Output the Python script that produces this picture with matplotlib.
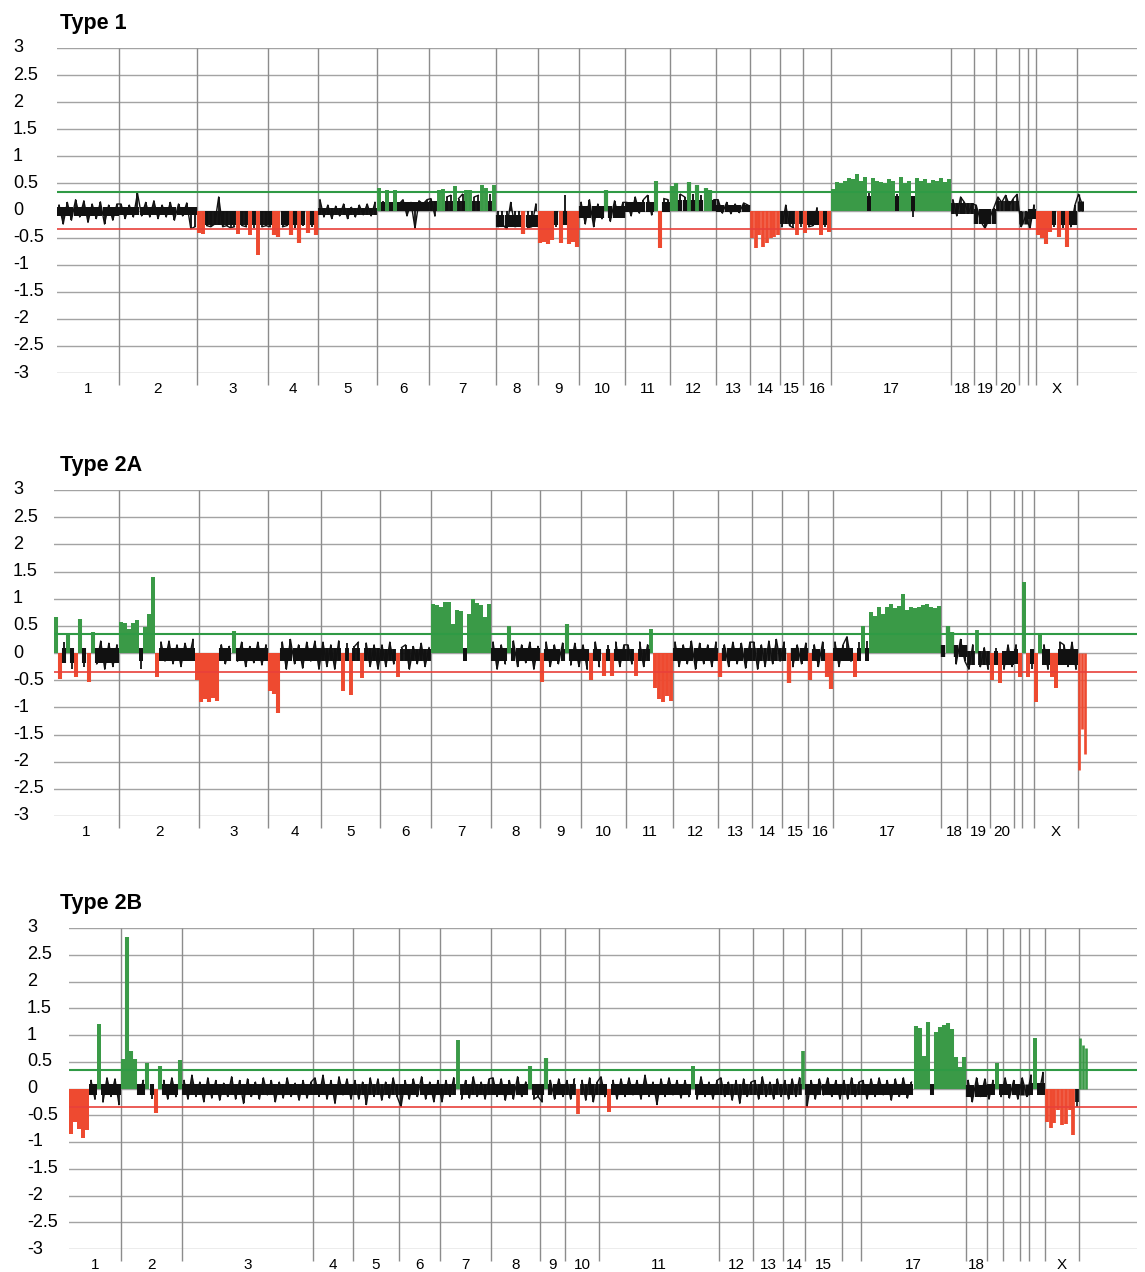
import numpy as np
import matplotlib.pyplot as plt
from matplotlib import transforms

plt.rcParams['font.family'] = ['Liberation Sans', 'DejaVu Sans']

W, H = 1145, 1272
GREEN = '#3a9a47'
RED = '#ee4a30'
GAIN, LOSS = 0.35, -0.35

# chromosome widths on the plot's genome axis, one entry per chromosome 1..22, X, Y
t1_lengths = [62, 78, 71, 50, 59, 52, 67, 42, 41, 46, 45, 46, 34, 30, 23, 28, 120, 23, 22, 23, 9, 8, 41, 6]
t2_lengths = [65, 80, 69, 53, 59, 51, 60, 49, 41, 45, 47, 45, 34, 30, 26, 25, 108, 26, 23, 24, 8, 12, 44, 8]
t3_lengths = [52, 61, 131, 40, 46, 41, 51, 49, 25, 34, 120, 34, 30, 22, 37, 19, 105, 21, 16, 17, 9, 16, 34, 8]

t1_labels = [str(i) for i in range(1, 21)] + ['', '', 'X', '']
t2_labels = [str(i) for i in range(1, 21)] + ['', '', 'X', '']
t3_labels = [str(i) for i in range(1, 16)] + ['', '17', '18', '', '', '', '', 'X', '']

# dense part of the noise band for each chromosome (low, high)
t1_core_lo = [-0.1, -0.09, -0.26, -0.26, -0.09, 0.0, 0.0, -0.3, -0.26, -0.13, -0.03, 0.0,
              -0.02, -0.26, -0.24, -0.26, 0.0, -0.07, -0.24, 0.0, -0.25, -0.15, -0.26, 0.0]
t1_core_hi = [0.07, 0.07, 0.0, 0.0, 0.05, 0.15, 0.18, -0.08, 0.0, 0.08, 0.16, 0.2,
              0.1, 0.0, 0.0, 0.0, 0.26, 0.14, 0.02, 0.17, 0.0, 0.03, 0.0, 0.17]
t2_core_lo = [-0.18, -0.15, -0.15, -0.15, -0.15, -0.15, -0.15, -0.15, -0.15, -0.15, -0.15, -0.15,
              -0.15, -0.15, -0.15, -0.15, -0.15, -0.08, -0.22, -0.22, -0.2, -0.2, -0.22, 0.0]
t2_core_hi = [0.1, 0.1, 0.1, 0.1, 0.1, 0.08, 0.1, 0.1, 0.08, 0.08, 0.08, 0.1,
              0.1, 0.1, 0.1, 0.08, 0.1, 0.15, 0.03, 0.03, 0.08, 0.08, 0.07, 0.0]
t3_core_lo = [-0.13] * 17 + [-0.15, -0.13, -0.13, -0.13, -0.13, -0.26, 0.0]
t3_core_hi = [0.08] * 17 + [0.07, 0.08, 0.08, 0.08, 0.1, 0.0, 0.0]

# log2 ratios, per chromosome
t1_values = [
    [0.1, -0.25, 0.15, -0.18, 0.2, -0.12, 0.18, -0.22, 0.12, -0.15, 0.16, -0.25, 0.1, -0.18, 0.12],
    [0.12, -0.15, 0.1, -0.12, 0.32, -0.1, 0.15, -0.12, 0.18, -0.15, 0.1, -0.12, 0.15, -0.18, 0.12, -0.1, 0.14, -0.34, -0.3],
    [-0.42, -0.43, -0.28, -0.3, -0.25, 0.25, -0.3, -0.28, -0.32, -0.3, -0.43, -0.28, -0.3, -0.45, -0.32, -0.82, -0.3, -0.28],
    [-0.3, -0.46, -0.48, -0.3, -0.28, -0.45, -0.32, -0.6, -0.28, -0.42, -0.3, -0.45],
    [0.2, -0.12, 0.1, -0.15, 0.08, -0.1, 0.12, -0.15, 0.06, -0.12, 0.1, -0.08, 0.12, -0.1, 0.15],
    [0.42, 0.18, 0.38, 0.15, 0.38, 0.12, 0.2, -0.1, 0.15, -0.33, 0.18, 0.12, 0.2],
    [0.22, -0.1, 0.38, 0.4, 0.25, 0.28, 0.45, 0.22, 0.3, 0.37, 0.38, 0.25, 0.28, 0.47, 0.42, 0.3, 0.48],
    [-0.3, -0.25, -0.34, 0.15, -0.3, -0.28, -0.43, -0.32, -0.3, 0.12],
    [-0.6, -0.58, -0.62, -0.55, -0.3, -0.6, 0.28, -0.62, -0.58, -0.68],
    [0.15, -0.25, 0.2, -0.3, 0.12, -0.15, 0.38, -0.2, 0.18, -0.12, 0.15],
    [0.15, -0.1, 0.25, -0.05, 0.2, 0.28, -0.08, 0.55, -0.7, 0.22, 0.2],
    [0.45, 0.5, 0.3, 0.25, 0.52, 0.3, 0.48, 0.28, 0.42, 0.38, 0.2],
    [0.2, -0.05, 0.15, -0.06, 0.12, -0.04, 0.14, 0.1],
    [-0.5, -0.7, -0.45, -0.68, -0.6, -0.5, -0.48, -0.45],
    [-0.3, 0.1, -0.28, -0.32, -0.45, -0.3],
    [-0.42, -0.3, -0.28, 0.05, -0.45, -0.3, -0.4],
    [0.4, 0.52, 0.5, 0.55, 0.6, 0.58, 0.68, 0.55, 0.62, 0.34, 0.6, 0.55, 0.52, 0.5, 0.58,
     0.55, 0.3, 0.62, 0.5, 0.55, -0.12, 0.6, 0.55, 0.58, 0.5, 0.57, 0.55, 0.6, 0.52, 0.58],
    [0.2, -0.1, 0.25, 0.15, -0.05, 0.12],
    [0.1, -0.2, -0.33, -0.15, 0.05],
    [0.25, 0.15, 0.28, 0.1, 0.22, 0.3],
    [-0.3, -0.1],
    [-0.33, 0.1],
    [-0.45, -0.5, -0.62, -0.4, -0.3, -0.48, -0.32, -0.68, -0.3, 0.1],
    [0.3, 0.15],
]

t2_values = [
    [0.66, -0.47, 0.2, 0.37, -0.3, -0.44, 0.63, -0.25, -0.53, 0.38, -0.2, 0.22, -0.3, 0.18, -0.25, 0.15],
    [0.57, 0.55, 0.45, 0.55, 0.6, -0.3, 0.48, 0.72, 1.4, -0.45, 0.2, -0.15, 0.22, -0.2, 0.15, -0.25, 0.18, -0.1, 0.25, -0.5],
    [-0.9, -0.85, -0.9, -0.82, -0.88, 0.15, -0.2, 0.12, 0.4, -0.15, 0.2, -0.25, 0.12, -0.18, 0.2, -0.22, 0.15],
    [-0.7, -0.75, -1.1, 0.2, -0.3, 0.25, -0.2, 0.15, -0.28, 0.2, -0.15, 0.22, -0.3],
    [0.2, -0.25, 0.15, -0.3, 0.22, -0.7, 0.18, -0.78, 0.12, 0.2, -0.46, 0.18, -0.25, 0.15, -0.3],
    [0.15, -0.25, 0.2, -0.2, -0.45, 0.1, 0.15, -0.3, 0.12, -0.2, 0.18, -0.25, 0.1],
    [0.91, 0.88, 0.85, 0.94, 0.93, 0.54, 0.8, 0.78, -0.05, 0.72, 1.0, 0.92, 0.88, 0.66, 0.91],
    [0.2, -0.3, 0.15, -0.2, 0.5, 0.22, -0.25, 0.15, -0.18, 0.2, -0.3, 0.12],
    [-0.53, 0.2, -0.25, 0.15, -0.2, 0.18, 0.54, -0.22, 0.18, -0.25],
    [0.15, -0.3, -0.5, 0.2, -0.25, -0.43, 0.15, -0.43, 0.2, -0.25, 0.15],
    [0.15, -0.2, -0.43, 0.2, -0.25, 0.15, 0.45, -0.65, -0.85, -0.9, -0.8, -0.88],
    [0.2, -0.25, 0.15, -0.2, 0.22, -0.3, 0.18, -0.2, 0.15, -0.25, 0.2],
    [-0.45, 0.15, -0.25, 0.2, -0.2, 0.18, -0.28, 0.2],
    [0.2, -0.3, 0.15, -0.25, 0.22, -0.2, 0.25, -0.15],
    [0.2, -0.55, -0.25, 0.15, -0.2, 0.18],
    [-0.5, 0.15, -0.25, 0.2, -0.45, -0.66],
    [0.2, -0.25, 0.15, 0.3, -0.15, -0.45, 0.2, 0.5, 0.22,
     0.76, 0.69, 0.85, 0.72, 0.85, 0.91, 0.82, 0.86, 1.09, 0.79, 0.85, 0.82, 0.84, 0.88, 0.9, 0.85, 0.82, 0.86],
    [0.15, 0.5, 0.38, -0.2, 0.25, -0.15],
    [-0.3, 0.15, 0.42, -0.25, 0.1, -0.3],
    [-0.5, 0.1, -0.55, -0.3, 0.15, -0.25],
    [0.15, -0.45],
    [1.3, -0.45, -0.3],
    [-0.9, 0.37, 0.15, -0.3, -0.45, -0.65, 0.2, 0.15, -0.25, 0.2, -0.3],
    [-2.15, -1.4, -1.85],
]

t3_values = [
    [-0.85, -0.62, -0.75, -0.93, -0.78, 0.15, -0.2, 1.2, -0.25, 0.2, -0.15, 0.18, -0.3],
    [0.55, 2.83, 0.7, 0.55, -0.1, 0.15, 0.47, -0.2, -0.46, 0.42, 0.15, -0.2, 0.2, -0.15, 0.54],
    [0.15, -0.2, 0.25, -0.15, 0.12, -0.25, 0.2, -0.18, 0.15, -0.22, 0.1, -0.15, 0.22, -0.2, 0.15, -0.28, 0.18,
     -0.15, 0.12, -0.2, 0.2, -0.12, 0.15, -0.25, 0.12, -0.18, 0.2, -0.15, 0.1, -0.22, 0.15, -0.18, 0.12],
    [0.2, -0.15, 0.25, -0.2, 0.15, -0.28, 0.22, -0.12, 0.18, -0.2],
    [0.15, -0.2, 0.12, -0.3, 0.2, -0.15, 0.18, -0.22, 0.12, -0.18, 0.2, -0.15],
    [-0.34, 0.15, -0.2, 0.18, -0.15, 0.22, -0.2, 0.12, -0.25, 0.15],
    [-0.25, 0.15, -0.15, 0.2, 0.91, -0.2, 0.15, -0.18, 0.22, -0.15, 0.12, -0.2, 0.18],
    [0.2, -0.15, 0.18, -0.22, 0.15, -0.2, 0.22, -0.15, 0.12, 0.42, -0.2, -0.15],
    [-0.25, 0.57, 0.15, -0.2, 0.18, -0.15],
    [0.15, -0.2, 0.18, -0.48, 0.15, -0.22, 0.2, -0.25, 0.12],
    [0.22, -0.15, -0.44, 0.15, -0.2, 0.18, -0.15, 0.2, -0.12, 0.15, -0.2, 0.25, -0.15, 0.12, -0.3,
     0.18, -0.15, 0.2, -0.12, 0.15, -0.18, 0.15, -0.15, 0.42, -0.2, 0.22, -0.15, 0.12, -0.2, 0.15],
    [0.2, -0.15, 0.12, -0.22, 0.15, -0.28, 0.18, -0.15, 0.12],
    [0.15, -0.2, 0.22, -0.15, 0.12, -0.2, 0.18, -0.15],
    [0.15, -0.2, 0.18, -0.15, 0.2, 0.7],
    [-0.34, 0.15, -0.2, 0.18, -0.12, 0.2, -0.15, 0.15, -0.2],
    [0.15, -0.2, 0.2, -0.15, 0.12],
    [0.15, -0.2, 0.18, -0.15, 0.2, -0.12, 0.15, -0.22, 0.18, -0.15, 0.2, -0.18, 0.12,
     1.16, 1.13, 0.6, 1.25, -0.12, 1.05, 1.15, 1.18, 1.22, 1.12, 0.58, 0.4, 0.58],
    [0.15, -0.25, 0.2, -0.15, 0.18],
    [-0.2, 0.15, 0.47, -0.15],
    [0.2, -0.18, 0.15, -0.2],
    [0.2, -0.15],
    [0.25, 0.94, -0.1, 0.3],
    [-0.62, -0.74, -0.65, -0.4, -0.68, -0.66, -0.4, -0.87, -0.34],
    [0.94, 0.82, 0.75],
]

fig = plt.figure(figsize=(W / 100, H / 100), dpi=100)


def draw_panel(left, top, bottom, title, lengths, labels, values, core_lo, core_hi):
    right = 1137
    ax = fig.add_axes([left / W, 1 - bottom / H, (right - left) / W, (bottom - top) / H])
    ax.set_xlim(0, right - left)
    ax.set_ylim(-3, 3)
    ax.axis('off')

    edges = np.concatenate([[0], np.cumsum(lengths)])
    px_per_y = (bottom - top) / 6.0

    # horizontal grid
    for y in np.arange(-3, 3.01, 0.5):
        ax.axhline(y, color='#a3a3a3', lw=1.0, zorder=0)
    # chromosome boundaries, running a little below the axis
    ax.vlines(edges[1:-1], -3 - 12 / px_per_y, 3, color='#8c8c8c', lw=1.0,
              clip_on=False, zorder=1)

    line_x, line_y = [], []
    for i, vals in enumerate(values):
        vals = np.array(vals)
        n = len(vals)
        step = lengths[i] / n
        xs = edges[i] + step * (np.arange(n) + 0.5)
        called = (vals > GAIN) | (vals < LOSS)
        cols = np.where(vals > GAIN, GREEN, RED)
        # called probes as bars from zero
        ax.vlines(xs[called], 0, vals[called], colors=cols[called], lw=step * 0.72, zorder=2)
        # dense core of the noise band under the uncalled probes
        ax.vlines(xs[~called], core_lo[i], core_hi[i], colors='#111111',
                  lw=step * 0.72, zorder=2)
        ax.vlines(xs[~called], 0, vals[~called], colors='#111111', lw=step * 0.72 * 0.45, zorder=2)
        line_x.extend(xs)
        line_y.extend(np.where(called, np.nan, vals))
    # noisy trace through the uncalled probes
    ax.plot(line_x, line_y, color='#111111', lw=1.0, zorder=2.5)

    ax.axhline(GAIN, color='#2f9a45', lw=1.5, zorder=3)
    ax.axhline(LOSS, color='#e8403a', lw=1.2, zorder=3)

    # chromosome names
    for i, lab in enumerate(labels):
        if lab:
            ax.text((edges[i] + edges[i + 1]) / 2, -3 - 16 / px_per_y, lab,
                    ha='center', va='center', fontsize=11, clip_on=False)

    # y tick labels, left aligned
    tr = transforms.blended_transform_factory(fig.transFigure, ax.transData)
    tick_x = 13 if left < 60 else 27
    for y in np.arange(-3, 3.01, 0.5):
        ax.text(tick_x / W, y, f'{y:g}', transform=tr, ha='left', va='center', fontsize=13)

    fig.text(60 / W, 1 - (top - 19) / H, title, fontsize=15.5, fontweight='bold',
             ha='left', va='baseline')
    return ax


draw_panel(57, 48, 373, 'Type 1', t1_lengths, t1_labels, t1_values, t1_core_lo, t1_core_hi)
draw_panel(54, 490, 816, 'Type 2A', t2_lengths, t2_labels, t2_values, t2_core_lo, t2_core_hi)
draw_panel(69, 928, 1249, 'Type 2B', t3_lengths, t3_labels, t3_values, t3_core_lo, t3_core_hi)

fig.savefig('out.png', dpi=100)
